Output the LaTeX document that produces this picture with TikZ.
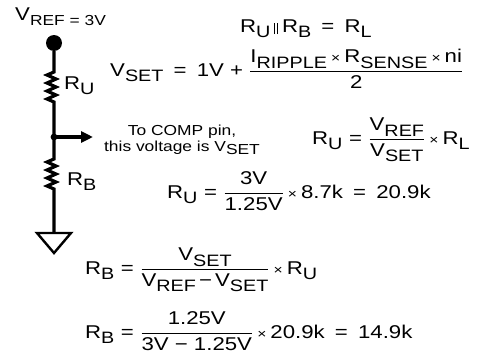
\documentclass[tikz,border=0pt]{standalone}
\usepackage{fontspec}
\setmainfont{Liberation Sans}[FakeStretch=1.2]
\usetikzlibrary{arrows.meta}
\newcommand\lo[1]{\raisebox{-0.3em}{\fontsize{16.5}{16.5}\selectfont #1}}
\newcommand\tms{\hspace{0.22em}{\fontsize{13}{13}\selectfont ×}\hspace{0.22em}}
\newcommand\eq{\hspace{0.55em}=\hspace{0.55em}}
\newcommand\eqs{\hspace{0.35em}=\hspace{0.35em}}
\newcommand\fr[2]{$\displaystyle\frac{\hbox{#1\rule[-0.42em]{0pt}{0pt}}}{\hbox{\rule{0pt}{0.82em}#2}}$}
\newcommand\pll{\hspace{0.2em}\rule[-0.12em]{0.05em}{0.6em}\hspace{0.12em}\rule[-0.12em]{0.05em}{0.6em}\hspace{0.2em}}
\tikzset{
  wire/.style={line width=3.2pt},
  txt/.style={inner sep=0pt,anchor=base west,font=\fontsize{18.5}{21}\selectfont},
  small/.style={inner sep=0pt,anchor=base,font=\fontsize{14.5}{16}\selectfont}
}
\begin{document}
\begin{tikzpicture}[x=1pt,y=-1pt]
\useasboundingbox (0,0) rectangle (487,356);
% circuit
\node[circle,fill,inner sep=0pt,minimum size=16pt] (top) at (54,43) {};
\coordinate (ru1) at (54,72);
\coordinate (ru2) at (54,102);
\coordinate (j) at (54,137);
\coordinate (rb1) at (54,159);
\coordinate (rb2) at (54,189);
\coordinate (g) at (54,233);
\coordinate (arr) at (93,137);
\draw[wire] (top) -- (ru1) -- ++(-7,3) -- ++(9,4) -- ++(-9,4) -- ++(9,4) -- ++(-9,4) -- ++(9,4) -- ++(-9,4) -- (ru2) -- (j)
  -- (rb1) -- ++(-7,3) -- ++(9,4) -- ++(-9,4) -- ++(9,4) -- ++(-9,4) -- ++(9,4) -- ++(-9,4) -- (rb2) -- (g);
\draw[line width=2.4pt,line join=miter] (g) -- ++(-17,0) -- ++(17,20) -- ++(17,-20) -- cycle;
\fill (j) circle (3.4pt);
\draw[wire,-{Triangle[length=12pt,width=11pt]}] (j) -- (arr);
% labels
\node[txt] (vref) at (15,20) {V\raisebox{-0.3em}{\fontsize{14.5}{14.5}\selectfont REF = 3V}};
\node[txt] (lru) at (64,89) {R\lo{U}};
\node[txt] (lrb) at (67,185) {R\lo{B}};
\node[small] (c1) at (182,135) {To COMP pin,};
\node[small] (c2) at (182,151) {this voltage is V\raisebox{-0.25em}{SET}};
% formulas
\node[txt] (f1) at (240,32) {R\lo{U}\pll R\lo{B}\eq R\lo{L}};
\node[txt] (f2) at (110,76) {V\lo{SET}\eq 1V + \fr{I\lo{RIPPLE}\tms R\lo{SENSE}\tms ni}{2}};
\node[txt] (f3) at (312,144) {R\lo{U}\eqs\fr{V\lo{REF}}{V\lo{SET}}\tms R\lo{L}};
\node[txt] (f4) at (167,198) {R\lo{U}\eqs\fr{3V}{1.25V}\tms 8.7k\eq 20.9k};
\node[txt] (f5) at (85,274) {R\lo{B}\eqs\fr{V\lo{SET}}{V\lo{REF}\,−\,V\lo{SET}}\tms R\lo{U}};
\node[txt] (f6) at (85,338) {R\lo{B}\eqs\fr{1.25V}{3V − 1.25V}\tms 20.9k\eq 14.9k};
\end{tikzpicture}
\end{document}
